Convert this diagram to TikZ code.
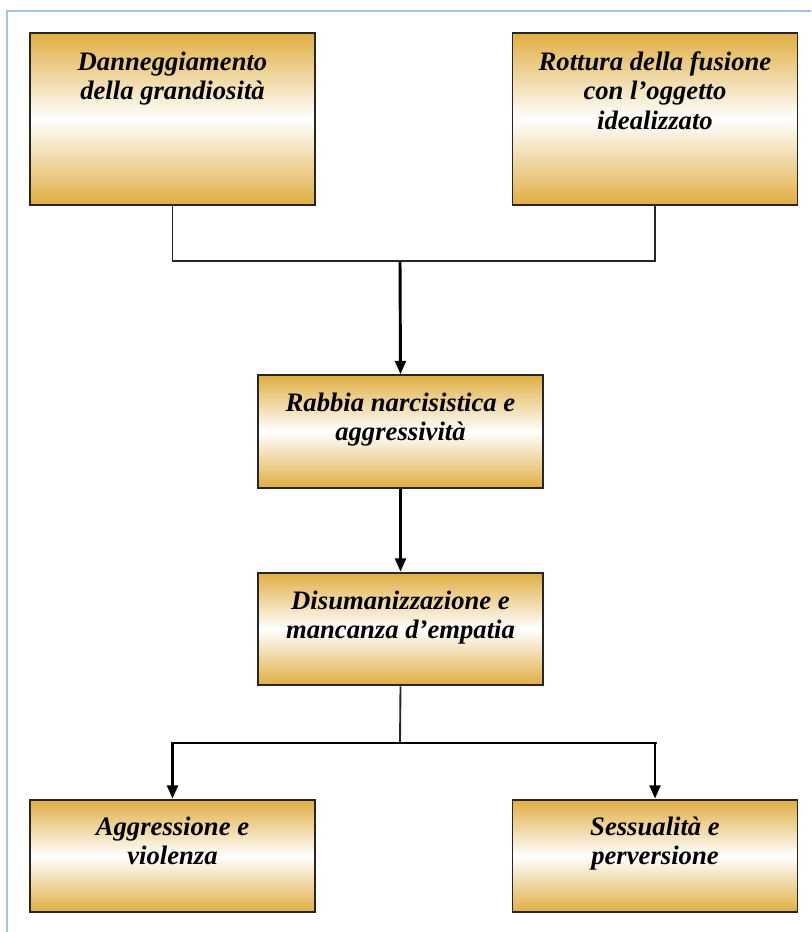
\documentclass[tikz,border=0pt]{standalone}
\usepackage{fontspec}
\setmainfont{Liberation Serif}
\usetikzlibrary{arrows.meta}
\definecolor{ocra}{RGB}{224,174,66}
\definecolor{cornice}{RGB}{160,196,232}
\tikzset{
  panel/.style={draw=black!85, line width=1.4pt, top color=ocra, bottom color=ocra, middle color=white, minimum width=213.75pt, inner sep=0pt},
  alto/.style={minimum height=129pt},
  basso/.style={minimum height=84.5pt},
  dicitura/.style={anchor=north, align=center, font=\fontsize{20}{22}\selectfont\bfseries\itshape},
  link/.style={line width=1.4pt, draw=black!85},
  freccia/.style={line width=2.2pt, -{Triangle[length=10pt, width=8pt]}}
}
\begin{document}
\begin{tikzpicture}[x=0.75pt, y=-0.75pt]
\useasboundingbox (0,0) rectangle (811,932);
\draw[cornice, line width=1.5pt] (811,11) -- (7,11) -- (7,932); % page frame

\node[panel, alto] (dann) at (172.5,119) {}; % top left box
\node[dicitura] (dann-t) at (172.5,47) {Danneggiamento\\della grandiosità}; % its text
\node[panel, alto] (rott) at (655,119) {}; % top right box
\node[dicitura] (rott-t) at (655,47) {Rottura della fusione\\con l’oggetto\\idealizzato}; % its text

\node[panel, basso] (rabbia) at (400.5,431.5) {}; % middle box
\node[dicitura] (rabbia-t) at (400.5,388) {Rabbia narcisistica e\\aggressività}; % its text
\node[panel, basso] (disum) at (400.5,629) {}; % lower middle box
\node[dicitura] (disum-t) at (400.5,586) {Disumanizzazione e\\mancanza d’empatia}; % its text

\node[panel, basso] (aggr) at (172.5,856) {}; % bottom left box
\node[dicitura] (aggr-t) at (172.5,812) {Aggressione e\\violenza}; % its text
\node[panel, basso] (sess) at (655,856) {}; % bottom right box
\node[dicitura] (sess-t) at (655,812) {Sessualità e\\perversione}; % its text

\coordinate (giunto) at (400,261); % upper join
\draw[link] (dann.south) |- (giunto) -| (rott.south); % both top boxes
\draw[freccia] (giunto) -- (rabbia.north); % down to rabbia
\draw[freccia] (rabbia.south) -- (disum.north); % down to disum

\coordinate (bivio) at (400,743); % lower split
\draw[link] (disum.south) -- (bivio); % stem
\draw[link] (173,743) -- (657,743); % split bar
\draw[freccia] (bivio) -| (aggr.north); % to aggr
\draw[freccia] (bivio) -| (sess.north); % to sess
\end{tikzpicture}
\end{document}
